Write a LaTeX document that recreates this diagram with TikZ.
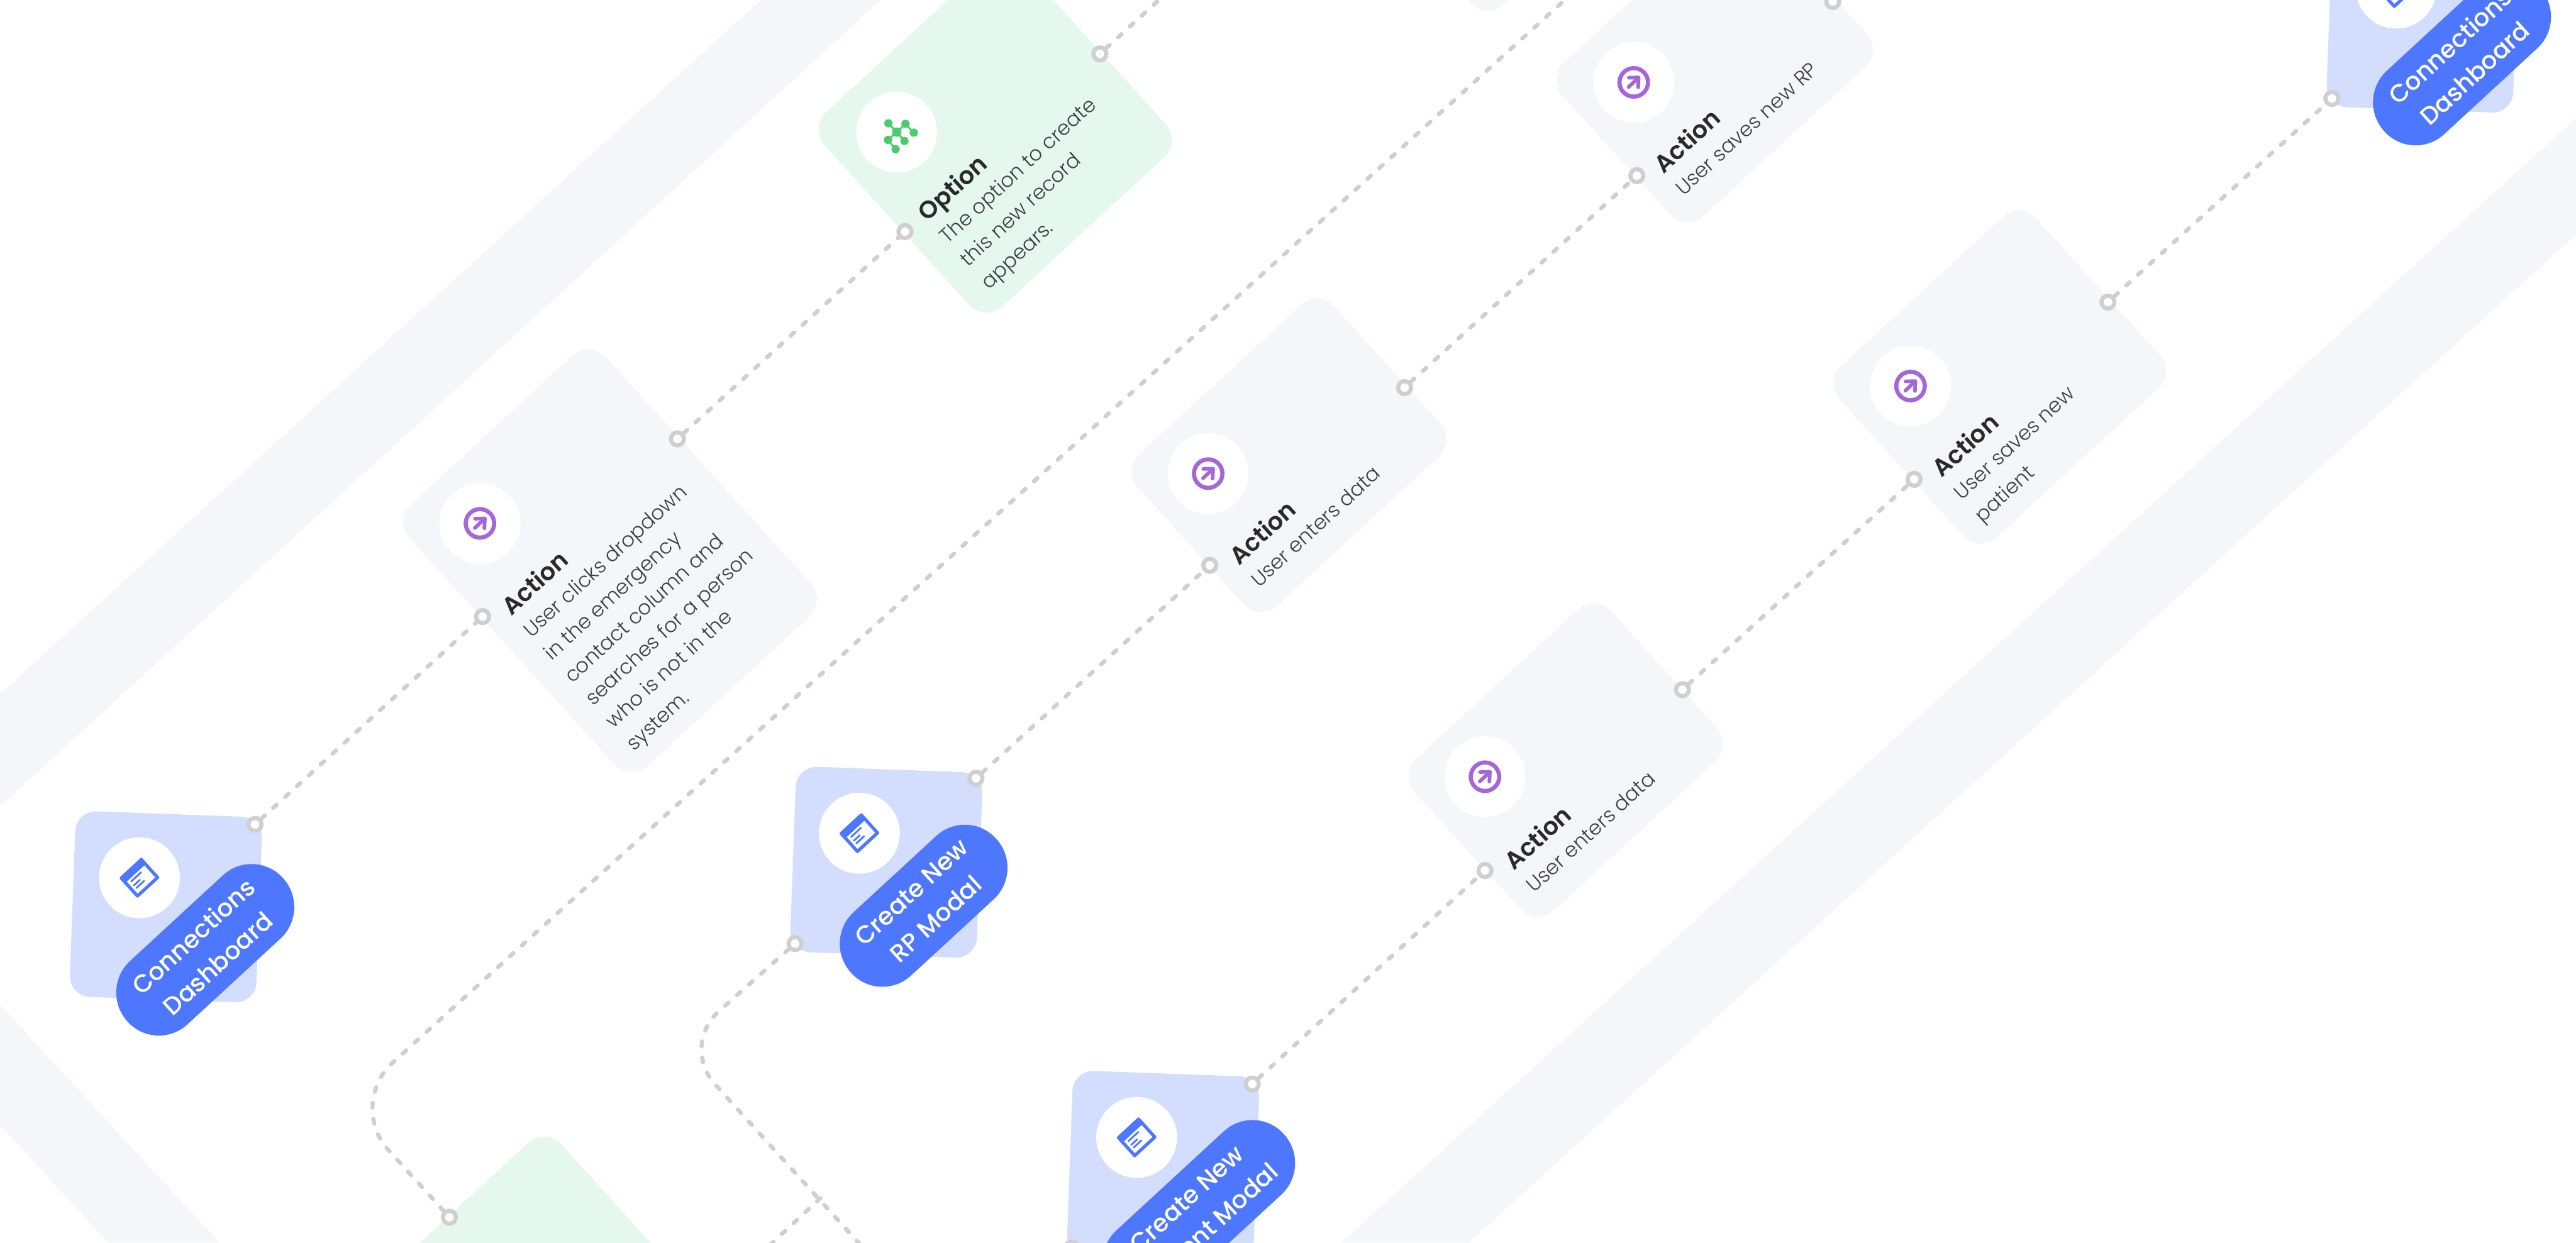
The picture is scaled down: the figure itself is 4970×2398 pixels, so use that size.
\documentclass[tikz,border=0pt]{standalone}
\usepackage{fontspec}
\setmainfont{Poppins}
\newfontfamily\lightfont{Poppins Light}
\newfontfamily\mediumfont{Poppins Medium}
\newfontfamily\boldfont{Poppins SemiBold}
\usepackage{xcolor}
\definecolor{bandgray}{HTML}{F5F6FA}
\definecolor{optiongreen}{HTML}{E4F8EE}
\definecolor{paleblue}{HTML}{D3DDFE}
\definecolor{pillblue}{HTML}{4E77FF}
\definecolor{flowgray}{HTML}{CFCFCF}
\definecolor{actionpurple}{HTML}{A566D9}
\definecolor{optionmint}{HTML}{48CC6C}
\definecolor{titleink}{HTML}{2A2A2A}
\definecolor{bodyink}{HTML}{404040}
\newcommand{\titletext}[1]{{\boldfont\fontsize{13.3}{16.8}\selectfont\color{titleink}#1}\\[-0.4pt]}
\tikzset{
    cardturn/.style={cm={0.735,0.678,-0.671,0.741,(0,0)}},
    actioncard/.style={cardturn, fill=bandgray, rounded corners=0.45cm, inner sep=0, minimum width=5.15cm},
    optioncard/.style={actioncard, fill=optiongreen, minimum height=5.06cm},
    screencard/.style={fill=paleblue, rounded corners=0.4cm, inner sep=0, minimum width=3.6cm, minimum height=3.58cm, rotate=-2.1},
    screenpill/.style={cardturn, fill=pillblue, rounded corners=0.82cm, inner sep=0, minimum height=1.65cm, align=center, text=white,
        font=\mediumfont\fontsize{13.5}{20}\selectfont},
    cardlabel/.style={cardturn, anchor=north west, inner sep=0, align=left, text=bodyink,
        font=\lightfont\fontsize{11.15}{16.8}\selectfont},
    iconspot/.style={circle, fill=white, inner sep=0, minimum size=1.56cm},
    ringdot/.style={circle, draw=flowgray, fill=white, line width=0.08cm, inner sep=0, minimum size=0.25cm},
    flowline/.style={draw=flowgray, line width=0.08cm, line cap=round, dash pattern=on 0.09cm off 0.22cm}
}

\begin{document}
\begin{tikzpicture}[x=0.01cm, y=-0.01cm]
    \useasboundingbox (0,0) rectangle (4970,2398);
    \clip (0,0) rectangle (4970,2398);
    \fill[white] (0,0) rectangle (4970,2398);

    % Background bands
    \fill[bandgray] (0,1340) -- (1468,0) -- (1699,0) -- (0,1556) -- cycle;
    \fill[bandgray] (0,1939) -- (423,2398) -- (209,2398) -- (0,2171) -- cycle;
    \fill[bandgray] (4970,228) -- (2588,2398) -- (2834,2398) -- (4970,452) -- cycle;

    % Action and option cards
    \node[actioncard, minimum height=6.8cm] (actA) at (1177,1082) {};
    \node[optioncard] (optA) at (1920,260) {};
    \node[optioncard] (optB) at (1033,2537) {};
    \node[actioncard, minimum height=3.95cm] (actB) at (2487,879) {};
    \node[actioncard, minimum height=4cm] (saveB) at (3308,125) {};
    \node[actioncard, minimum height=3.95cm] (actC) at (3021,1467) {};
    \node[actioncard, minimum height=4.46cm] (saveC) at (3858,728) {};
    \node[actioncard, minimum height=4cm] (upperE) at (2924,-284) {};

    % Screen cards
    \node[screencard] (dashA) at (320,1750) {};
    \node[screencard] (modalB) at (1710,1664) {};
    \node[screencard] (modalC) at (2244,2251) {};
    \node[screencard] (dashD) at (4674,33) {};

    % Icon spots, purple arrows
    \foreach \name/\x/\y in {spotA/926/1010, spotB/2331/914, spotS/3152/159, spotC/2865/1499, spotP/3686/745} {
        \node[iconspot] (\name) at (\x,\y) {};
        \begin{scope}[shift={(\x,\y)}]
            \draw[actionpurple, line width=0.08cm] (0,0) circle (0.275cm);
            \draw[actionpurple, line width=0.07cm, line cap=round, line join=round] (-9.5,-9) -- (9.5,-9.5) -- (8.5,9.5);
            \draw[actionpurple, line width=0.07cm, line cap=round] (-10,9) -- (8,-8);
        \end{scope}
    }

    % Icon spot, green molecule
    \node[iconspot] (spotO) at (1730,255) {};
    \begin{scope}[shift={(1730,255)}]
        \draw[optionmint, line width=0.035cm] (-16,-17) -- (0,0) -- (17,-16) -- (33,1);
        \draw[optionmint, line width=0.035cm] (15,17) -- (0,0) -- (-17,15) -- (-2,33);
        \foreach \x/\y in {-16/-17, 17/-16, 33/1, -17/15, 15/17, -2/33} {
            \fill[optionmint] (\x,\y) circle (0.08cm);
        }
        \fill[optionmint] (0,0) circle (0.09cm);
    \end{scope}

    % Icon spots, blue screens
    \foreach \name/\x/\y in {spotD/269/1694, spotM/1658/1608, spotN/2193/2195, spotE/4623/-23} {
        \node[iconspot] (\name) at (\x,\y) {};
        \begin{scope}[shift={(\x,\y)}, cardturn]
            \fill[pillblue, rounded corners=0.03cm] (-29.5,-26.5) rectangle (29.5,26.5);
            \fill[white] (-23,-11) rectangle (23,20);
            \draw[pillblue, line width=0.035cm, line cap=round] (-16.5,-5.5) -- (9.5,-5.5);
            \draw[pillblue, line width=0.035cm, line cap=round] (-17.5,3.5) -- (-2,3.5);
            \draw[pillblue, line width=0.035cm, line cap=round] (-17.5,10.5) -- (2.5,10.5);
        \end{scope}
    }

    % Card texts
    \node[cardlabel] (textA) at (961,1162) {\titletext{Action}User clicks dropdown\\in the emergency\\contact column and\\searches for a person\\who is not in the\\system.};
    \node[cardlabel] (textO) at (1764,402) {\titletext{Option}The option to create\\this new record\\appears.};
    \node[cardlabel] (textB) at (2365,1065) {\titletext{Action}User enters data};
    \node[cardlabel] (textS) at (3184,309) {\titletext{Action}User saves new RP};
    \node[cardlabel] (textC) at (2896,1654) {\titletext{Action}User enters data};
    \node[cardlabel] (textP) at (3721,896) {\titletext{Action}User saves new\\patient};

    % Connection points
    \foreach \name/\x/\y in {dashAout/492/1591, actAin/931/1190, actAout/1307/847, optAin/1746/447, optAout/2122/104,
        modalBout/1883/1502, actBin/2334/1091, actBout/2710/748, saveBin/3158/339, saveBout/3536/3,
        modalBlow/1534/1821, optBin/867/2349, modalCout/2416/2092, modalClow/2068/2408, actCin/2865/1680,
        actCout/3246/1331, saveCin/3693/925, saveCout/4067/583, dashDin/4499/190} {
        \node[ringdot] (\name) at (\x,\y) {};
    }

    % Free ends and bends of the connectors
    \coordinate (optAexit) at (2258,-20);
    \coordinate (longbend) at (669,2131);
    \coordinate (longexit) at (3041,-20);
    \coordinate (modalbend) at (1312,2018);
    \coordinate (modalexit) at (1676,2420);
    \coordinate (branchjoin) at (1583,2312);
    \coordinate (branchexit) at (1467,2420);

    % Connectors
    \foreach \from/\to in {dashAout/actAin, actAout/optAin, optAout/optAexit, modalBout/actBin, actBout/saveBin,
        modalCout/actCin, actCout/saveCin, saveCout/dashDin, branchjoin/branchexit} {
        \draw[flowline] (\from) -- (\to);
    }
    \draw[flowline, rounded corners=1.2cm] (optBin) -- (longbend) -- (longexit);
    \draw[flowline, rounded corners=1cm] (modalBlow) -- (modalbend) -- (modalexit);

    % Screen labels
    \node[screenpill, minimum width=4.08cm] (pillA) at (396,1833) {Connections\\Dashboard};
    \node[screenpill, minimum width=3.81cm] (pillB) at (1782,1748) {Create New\\RP Modal};
    \node[screenpill, minimum width=4.46cm] (pillC) at (2313,2340) {Create New\\Patient Modal};
    \node[screenpill, minimum width=4.08cm] (pillD) at (4750,115) {Connections\\Dashboard};
\end{tikzpicture}
\end{document}
